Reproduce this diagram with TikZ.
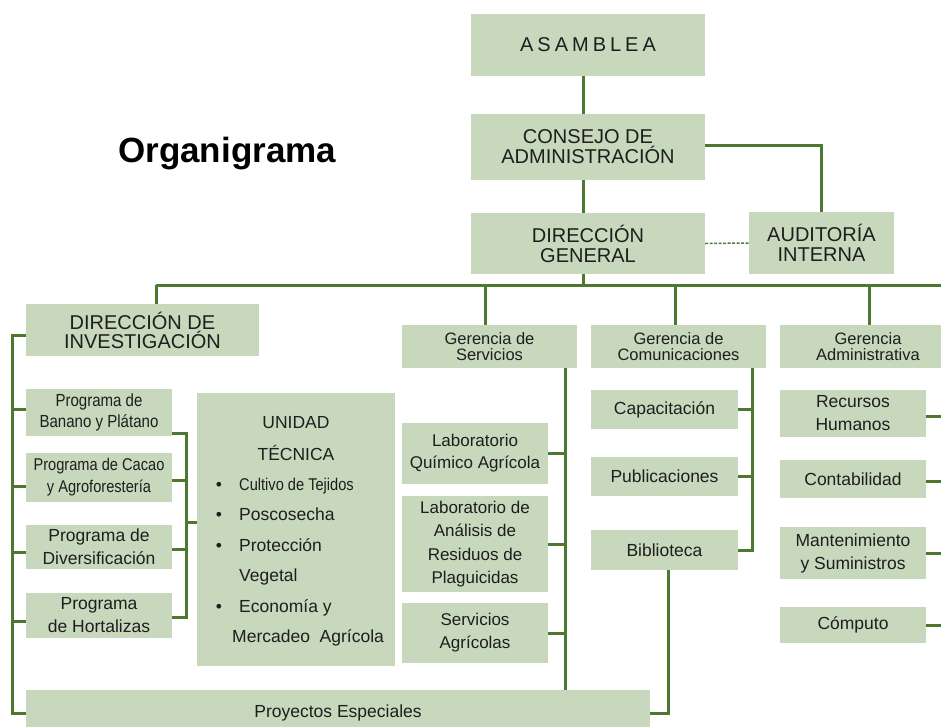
\documentclass[tikz,border=0pt]{standalone}
\usepackage{fontspec}
\setmainfont{Liberation Sans}
\newfontfamily\narrowf[FakeStretch=0.86]{Liberation Sans}
\definecolor{boxgreen}{RGB}{199,216,189}
\definecolor{linegreen}{RGB}{76,120,48}
\definecolor{txt}{RGB}{30,30,30}
\newcommand{\fs}[2]{\fontsize{#1}{#2}\selectfont}
\begin{document}
\begin{tikzpicture}[x=1pt,y=-1pt,
  box/.style={rectangle, fill=boxgreen, inner sep=0pt, align=center, text=txt},
  link/.style={draw=linegreen, line width=3pt},
  dlink/.style={draw=linegreen!80!gray, line width=1.5pt, dash pattern=on 3pt off 1.5pt},
  big/.style={font=\fs{20}{20}},
  ger/.style={font=\fs{16.5}{16}},
  sub/.style={font=\fs{17.5}{23}},
  utx/.style={anchor=base west, inner sep=0pt, text=txt, font=\fs{17.5}{20}},
  utc/.style={anchor=base, inner sep=0pt, text=txt, font=\fs{17.5}{20}}]
\useasboundingbox (0,0) rectangle (941,726);
\fill[white] (0,0) rectangle (941,726);

% title
\node[anchor=base west, inner sep=0pt, font=\fs{35}{40}\bfseries, text=black] (title) at (118,162) {Organigrama};

% top
\node[box, big, minimum width=234pt, minimum height=62pt] (asam) at (588,45) {A\kern4ptS\kern4ptA\kern4ptM\kern4ptB\kern4ptL\kern4ptE\kern4ptA};
\node[box, big, minimum width=234pt, minimum height=66pt] (cons) at (588,147) {CONSEJO DE\\ADMINISTRACIÓN};
\node[box, big, minimum width=234pt, minimum height=61pt] (dg) at (588,243.5) {DIRECCIÓN\\GENERAL};
\node[box, big, minimum width=145pt, minimum height=62pt] (aud) at (821.5,243) {AUDITORÍA\\INTERNA};

% second level
\node[box, font=\fs{20}{19}, minimum width=233pt, minimum height=52pt] (di) at (142.5,330) {DIRECCIÓN DE\\INVESTIGACIÓN};
\node[box, ger, minimum width=175pt, minimum height=43pt] (gs) at (489.5,346.5) {Gerencia de\\Servicios};
\node[box, ger, minimum width=175pt, minimum height=43pt] (gc) at (678.5,346.5) {Gerencia de\\Comunicaciones};
\node[box, ger, minimum width=176pt, minimum height=43pt] (ga) at (868,346.5) {Gerencia\\Administrativa};

% programs
\node[box, font=\narrowf\fs{17.5}{21}, minimum width=146pt, minimum height=47pt] (ban) at (99,412.5) {Programa de\\Banano y Plátano};
\node[box, font=\narrowf\fs{17}{22}, minimum width=146pt, minimum height=49pt] (cac) at (99,477.5) {Programa de Cacao\\y Agroforestería};
\node[box, sub, minimum width=146pt, minimum height=44pt] (div) at (99,547) {Programa de\\Diversificación};
\node[box, sub, minimum width=146pt, minimum height=45pt] (hor) at (99,615.5) {Programa\\de Hortalizas};

% unidad tecnica
\node[box, minimum width=198pt, minimum height=273pt] (ut) at (296,529.5) {};
\node[utc] (ut1) at (296,428) {UNIDAD};
\node[utc] (ut2) at (296,460) {TÉCNICA};
\node[utc] (b1) at (219,490) {\textbullet};
\node[utx, font=\narrowf\fs{17}{20}] (ut3) at (239,490) {Cultivo de Tejidos};
\node[utc] (b2) at (219,520) {\textbullet};
\node[utx] (ut4) at (239,520) {Poscosecha};
\node[utc] (b3) at (219,551) {\textbullet};
\node[utx] (ut5) at (239,551) {Protección};
\node[utx] (ut6) at (239,581) {Vegetal};
\node[utc] (b4) at (219,612) {\textbullet};
\node[utx] (ut7) at (239,612) {Economía y};
\node[utx] (ut8) at (232,642) {Mercadeo\ \ Agrícola};

% services
\node[box, font=\fs{17}{22}, minimum width=146pt, minimum height=61pt] (lq) at (475,453.5) {Laboratorio\\Químico Agrícola};
\node[box, font=\fs{17}{23.5}, minimum width=146pt, minimum height=96pt] (la) at (475,544) {Laboratorio de\\Análisis de\\Residuos de\\Plaguicidas};
\node[box, font=\fs{17}{23}, minimum width=146pt, minimum height=60pt] (sa) at (475,633) {Servicios\\Agrícolas};

% communications
\node[box, sub, minimum width=147pt, minimum height=39pt] (cap) at (664.5,409.5) {Capacitación};
\node[box, sub, minimum width=147pt, minimum height=39pt] (pub) at (664.5,476.5) {Publicaciones};
\node[box, sub, minimum width=147pt, minimum height=40pt] (bib) at (664.5,550) {Biblioteca};

% administrative
\node[box, sub, minimum width=146pt, minimum height=47pt] (rh) at (853,413.5) {Recursos\\Humanos};
\node[box, sub, minimum width=146pt, minimum height=38pt] (con) at (853,479) {Contabilidad};
\node[box, sub, minimum width=146pt, minimum height=52pt] (man) at (853,553) {Mantenimiento\\y Suministros};
\node[box, sub, minimum width=146pt, minimum height=36pt] (comp) at (853,625) {Cómputo};

% special projects
\node[box, font=\fs{17.5}{20}, minimum width=624pt, minimum height=46pt] (pe) at (338,713) {Proyectos Especiales};

% ---- connectors ----
\coordinate (busL) at (156,285);
\coordinate (busR) at (950,285);
\coordinate (spR) at (944,368);

\draw[link] (583,0 |- asam.south) -- (583,0 |- cons.north);
\draw[link] (583,0 |- cons.south) -- (583,0 |- dg.north);
\draw[link] (cons.east |- 0,145) -| (aud.north);
\draw[dlink] (dg.east) -- (aud.west);
\draw[link] (583,0 |- dg.south) -- (583,0 |- busL);
\draw[link] (busL) -- (busR);
\draw[link] (busL) -- (di.north -| busL);
\draw[link] (485,0 |- busL) -- (485,0 |- gs.north);
\draw[link] (675,0 |- busL) -- (675,0 |- gc.north);
\draw[link] (869,0 |- busL) -- (869,0 |- ga.north);

% left spine
\draw[link] (di.west |- 0,335) -- (12,335) |- (pe.west);
\draw[link] (12,409) -- (ban.west |- 0,409);
\draw[link] (12,486) -- (cac.west |- 0,486);
\draw[link] (12,552) -- (div.west |- 0,552);
\draw[link] (12,621) -- (hor.west |- 0,621);

% program bracket to unidad tecnica
\draw[link] (ban.east |- 0,433) -- (186,433) |- (hor.east |- 0,617);
\draw[link] (cac.east |- 0,480) -- (186,480);
\draw[link] (div.east |- 0,549) -- (186,549);
\draw[link] (186,522) -- (ut.west |- 0,522);

% services spine
\draw[link] (565,0 |- gs.south) -- (565,0 |- pe.north);
\draw[link] (lq.east) -- (lq.east -| 565,0);
\draw[link] (la.east) -- (la.east -| 565,0);
\draw[link] (sa.east) -- (sa.east -| 565,0);

% communications spine
\draw[link] (752,0 |- gc.south) |- (bib.east);
\draw[link] (cap.east) -- (cap.east -| 752,0);
\draw[link] (pub.east) -- (pub.east -| 752,0);
\draw[link] (668,0 |- bib.south) |- (pe.east);

% administrative spine
\draw[link] (spR) |- (comp.east);
\draw[link] (rh.east |- 0,416) -- (944,416);
\draw[link] (con.east |- 0,481) -- (944,481);
\draw[link] (man.east) -- (man.east -| spR);
\end{tikzpicture}
\end{document}
